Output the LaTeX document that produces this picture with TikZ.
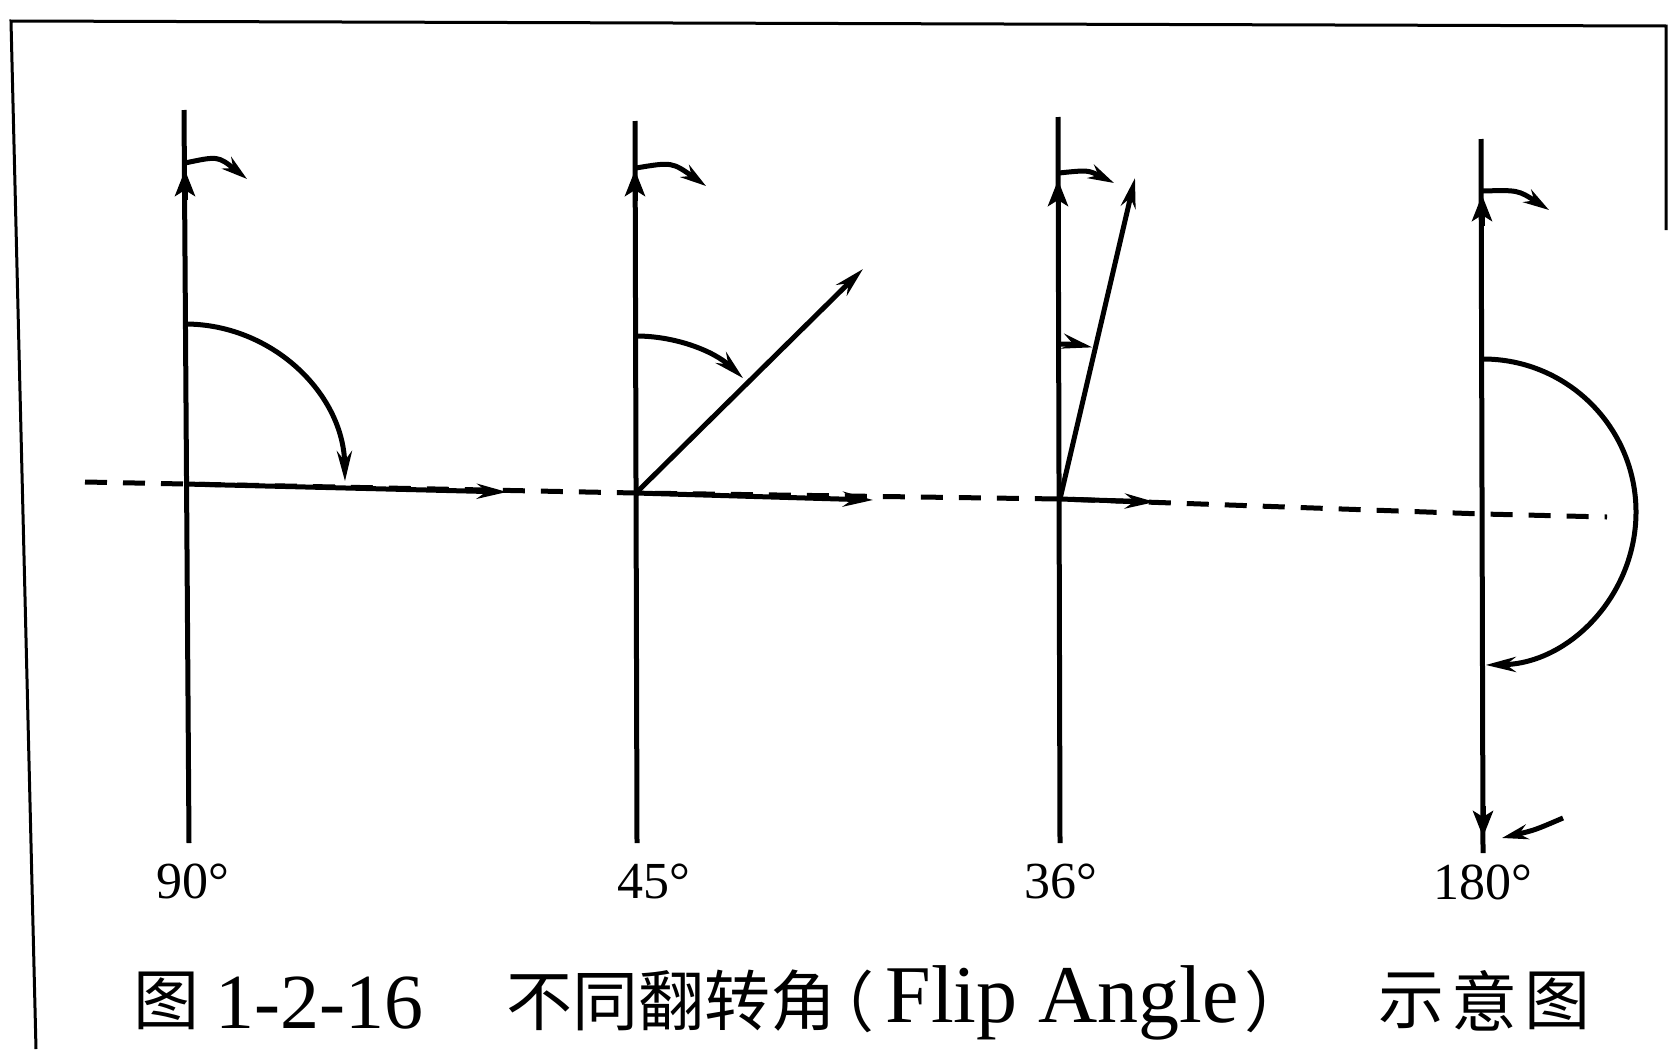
\documentclass[tikz,border=0pt]{standalone}
\usepackage{fontspec}
\setmainfont{Liberation Serif}
\newfontfamily\cjk{Noto Sans CJK SC}
\usetikzlibrary{arrows.meta}
\begin{document}
\begin{tikzpicture}[x=0.5pt,y=-0.5pt,
  line width=2.5pt,
  vec/.style={-{Stealth[length=15pt,width=7.5pt]}},
  prec/.style={line width=2.5pt,-{Stealth[length=13pt,width=7.5pt]}},
  blob/.style={line width=2.5pt,-{Stealth[length=13pt,width=10pt,inset=3pt]}},
  dashline/.style={dash pattern=on 11pt off 8pt},
  deg/.style={font=\fontsize{26}{28}\selectfont, inner sep=0pt},
  capcjk/.style={font=\cjk\fontsize{33}{36}\selectfont, inner sep=0pt},
  caplat/.style={font=\fontsize{39}{42}\selectfont, inner sep=0pt},
  caplatw/.style={font=\fontsize{41}{44}\selectfont, inner sep=0pt}]
\useasboundingbox (0,0) rectangle (1674,1049);
% frame
\draw[line width=1.5pt] (36,1049) -- (11,21) -- (1666,26) -- (1666,230);

% origins
\coordinate (O1) at (185,484);
\coordinate (O2) at (636,493);
\coordinate (O3) at (1060,499);
\coordinate (O4) at (1483,514);
\coordinate (L) at (85,482);
\coordinate (R) at (1607,517);

% dashed transverse plane
\draw[dashline] (L) -- (O1) -- (O2) -- (O3) -- (O4) -- (R);

% axes
\coordinate (A1t) at (184,110); \coordinate (A1b) at (189,843);
\coordinate (A2t) at (635,121); \coordinate (A2b) at (637,843);
\coordinate (A3t) at (1058,117); \coordinate (A3b) at (1060,843);
\coordinate (A4t) at (1481,139); \coordinate (A4b) at (1483,853);
\draw (A1t) -- (A1b);
\draw (A2t) -- (A2b);
\draw (A3t) -- (A3b);
\draw (A4t) -- (A4b);

% axis markers
\draw[blob] (185,200) -- (185,170);
\draw[blob] (635,201) -- (635,170);
\draw[blob] (1058,210) -- (1058,180);
\draw[blob] (1482,226) -- (1482,195);
\draw[blob] (1483,806) -- (1483,837);

% precession arrows
\draw[prec] (185,163) .. controls (218,156) .. (247,179);
\draw[prec] (636,168) .. controls (672,162) .. (706,186);
\draw[prec] (1059,173) .. controls (1088,170) .. (1114,183);
\draw[prec] (1483,191) .. controls (1518,190) .. (1549,210);
\draw[prec] (1563,818) .. controls (1535,830) .. (1502,838);

% transverse vectors
\coordinate (H1) at (507,492);
\coordinate (H2) at (873,500);
\coordinate (H3) at (1155,502);
\draw[vec] (O1) -- (H1);
\draw[vec] (O2) -- (H2);
\draw[vec] (O3) -- (H3);

% tilted vectors
\coordinate (T2) at (863,269);
\coordinate (T3) at (1135,178);
\draw[vec] (O2) -- (T2);
\draw[vec] (O3) -- (T3);

% flip arcs
\draw[vec] (185,324) arc[start angle=-90, end angle=-1, radius=160];
\draw[vec] (636,336) arc[start angle=-90, end angle=-47, radius=157];
\draw[vec] (1060,344) arc[start angle=-90, end angle=-78, radius=155];
\draw[vec] (1483,359) arc[start angle=-90, end angle=89, radius=153];

% angle labels
\node[deg] (l1) at (193,881) {90°};
\node[deg] (l2) at (654,881) {45°};
\node[deg] (l3) at (1061,881) {36°};
\node[deg] (l4) at (1483,882) {180°};

% caption
\node[capcjk] (c1) at (166,1001) {图};
\node[caplat, anchor=west] (c2) at (213,1003) {1-2-16};
\node[capcjk] (c3) at (671,1001) {不同翻转角};
\node[capcjk, anchor=west] (c4) at (806,1001) {（};
\node[caplatw, anchor=west] (c5) at (883,1003) {Flip Angle};
\node[capcjk, anchor=west] (c6) at (1242,1001) {）};
\node[capcjk] (c7) at (1411,1001) {示};
\node[capcjk] (c8) at (1484,1001) {意};
\node[capcjk] (c9) at (1557,1001) {图};
\end{tikzpicture}
\end{document}
